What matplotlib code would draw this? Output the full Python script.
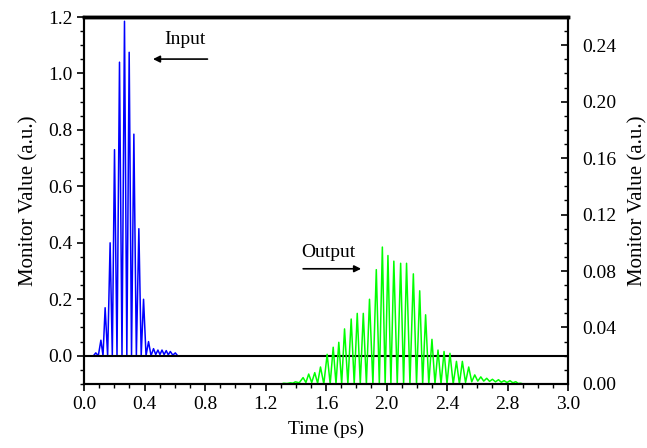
import numpy as np
import matplotlib.pyplot as plt
from matplotlib.ticker import MultipleLocator

plt.rcParams['font.family'] = ['Liberation Serif', 'DejaVu Serif']

# Input pulse: peak times (ps) and peak heights (left axis)
input_t = [0.077, 0.111, 0.139, 0.172, 0.201, 0.234, 0.267, 0.298, 0.329,
           0.362, 0.393, 0.426, 0.459, 0.488, 0.515, 0.543, 0.570, 0.603]
input_peak = [0.01, 0.055, 0.17, 0.40, 0.73, 1.04, 1.185, 1.075, 0.785,
              0.45, 0.20, 0.05, 0.025, 0.02, 0.02, 0.018, 0.015, 0.01]
input_trough = [0.0, 0.0, 0.0, 0.0, 0.0, 0.0, 0.0, 0.0, 0.0,
                0.0, 0.0, 0.0, 0.004, 0.004, 0.004, 0.003, 0.002]

# Output pulse: peak times (ps) and peak heights (right axis)
output_t = [1.320, 1.364, 1.397, 1.448, 1.485, 1.525, 1.563, 1.607, 1.647,
            1.684, 1.722, 1.766, 1.806, 1.846, 1.887, 1.932, 1.972, 2.009,
            2.048, 2.093, 2.132, 2.177, 2.219, 2.258, 2.300, 2.340, 2.380,
            2.419, 2.462, 2.501, 2.543, 2.583, 2.623, 2.662, 2.700, 2.740,
            2.777, 2.816, 2.854, 2.887]
output_peak = [0.0005, 0.0008, 0.0015, 0.0045, 0.007, 0.008, 0.012, 0.021,
               0.026, 0.0295, 0.039, 0.046, 0.050, 0.050, 0.060, 0.081,
               0.097, 0.091, 0.087, 0.0855, 0.0855, 0.078, 0.066, 0.049,
               0.0316, 0.024, 0.023, 0.0217, 0.016, 0.016, 0.012, 0.0064,
               0.005, 0.004, 0.0033, 0.003, 0.0023, 0.0023, 0.0016, 0.0005]
output_trough = [0.0003, 0.0005, 0.0008, 0.001, 0.001, 0.0005, 0.0, 0.0,
                 0.0, 0.0, 0.0, 0.0, 0.0, 0.0, 0.0, 0.0, 0.0, 0.0, 0.0, 0.0,
                 0.0, 0.0, 0.0, 0.0, 0.0, 0.0, 0.0, 0.0, 0.0, 0.001, 0.0015,
                 0.002, 0.002, 0.0018, 0.0015, 0.0012, 0.001, 0.0008, 0.0003]

x_ticks = [0.0, 0.4, 0.8, 1.2, 1.6, 2.0, 2.4, 2.8, 3.2]
x_labels = ['0.0', '0.4', '0.8', '1.2', '1.6', '2.0', '2.4', '2.8', '3.0']


def zigzag(t, peaks, troughs):
    # alternate peak and trough samples, trough halfway between peaks
    xs, ys = [t[0] - 0.015], [0.0]
    for i in range(len(t)):
        xs.append(t[i])
        ys.append(peaks[i])
        if i < len(troughs):
            xs.append((t[i] + t[i + 1]) / 2)
            ys.append(troughs[i])
    xs.append(t[-1] + 0.015)
    ys.append(0.0)
    return xs, ys


fig = plt.figure(figsize=(6.47, 4.48), dpi=100)
ax = fig.add_axes([0.130, 0.143, 0.748, 0.819])
ax2 = ax.twinx()

bx, by = zigzag(input_t, input_peak, input_trough)
ax.plot(bx, by, color='#0000ff', lw=1.1)

gx, gy = zigzag(output_t, output_peak, output_trough)
ax2.plot(gx, gy, color='#00ff00', lw=1.1)

ax.axhline(0.0, color='black', lw=1.5, zorder=5)

ax.set_xlim(0, 3.2)
ax.set_ylim(-0.1, 1.2)
ax2.set_ylim(0, 0.26)

ax.set_xticks(x_ticks)
ax.set_xticklabels(x_labels)
ax.xaxis.set_minor_locator(MultipleLocator(0.1))
ax.yaxis.set_major_locator(MultipleLocator(0.2))
ax.yaxis.set_minor_locator(MultipleLocator(0.05))
ax2.yaxis.set_major_locator(MultipleLocator(0.04))
ax2.yaxis.set_minor_locator(MultipleLocator(0.01))
ax2.yaxis.set_major_formatter(plt.FormatStrFormatter('%.2f'))
ax.yaxis.set_major_formatter(plt.FormatStrFormatter('%.1f'))

ax.tick_params(axis='both', which='major', direction='out', length=5,
               width=1.2, labelsize=14)
ax.tick_params(axis='both', which='minor', direction='out', length=3, width=1)
ax2.tick_params(axis='y', which='major', direction='in', length=5, width=1.2,
                labelsize=14, pad=10)
ax2.tick_params(axis='y', which='minor', direction='in', length=3, width=1)

for a in (ax, ax2):
    for s in a.spines.values():
        a.spines[s.spine_type].set_linewidth(1.5)
    a.spines['top'].set_linewidth(2.5)

ax.set_xlabel('Time (ps)', fontsize=14, labelpad=6)
ax.set_ylabel('Monitor Value (a.u.)', fontsize=15, labelpad=7)
ax2.set_ylabel('Monitor Value (a.u.)', fontsize=15, labelpad=9)

ax.text(0.669, 1.119, 'Input', fontsize=14, ha='center', va='center')
ax.annotate('', xy=(0.437, 1.051), xytext=(0.834, 1.051),
            arrowprops=dict(arrowstyle='-|>', color='black', lw=1.2,
                            mutation_scale=10))
ax.text(1.616, 0.365, 'Output', fontsize=14, ha='center', va='center')
ax.annotate('', xy=(1.85, 0.308), xytext=(1.43, 0.308),
            arrowprops=dict(arrowstyle='-|>', color='black', lw=1.2,
                            mutation_scale=10))

fig.savefig('out.png', dpi=100)
